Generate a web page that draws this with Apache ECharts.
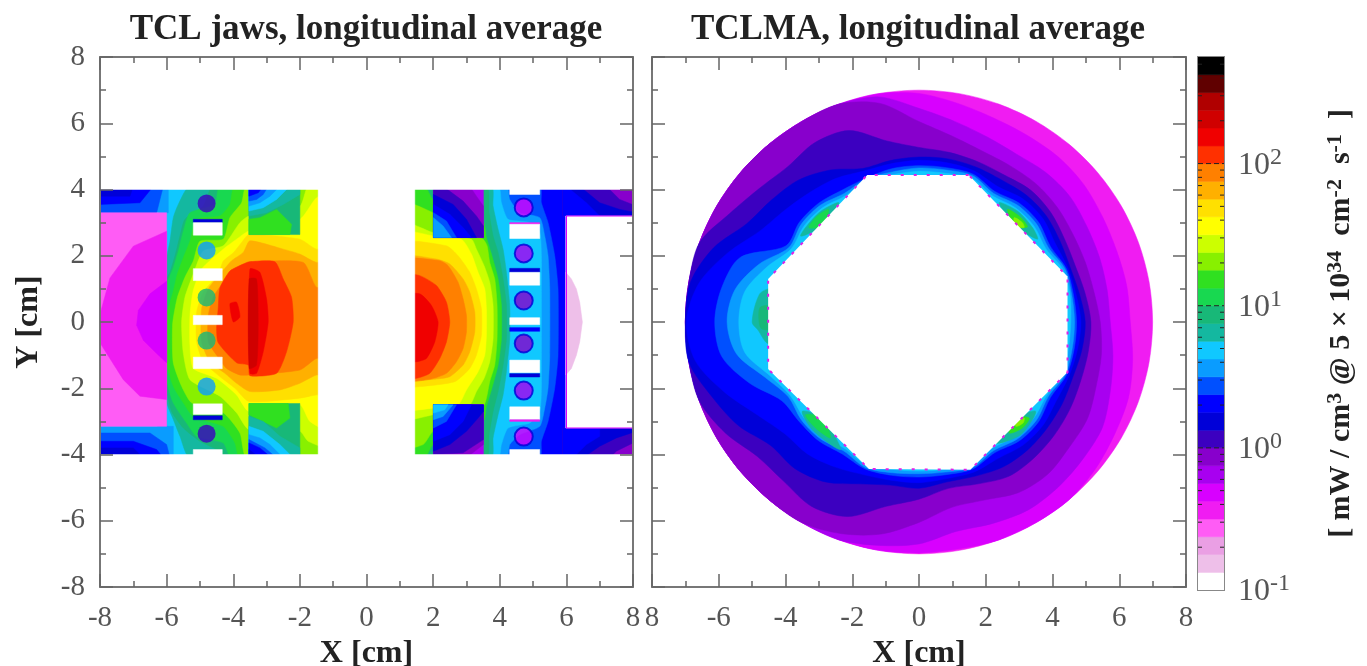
<!DOCTYPE html>
<html>
<head>
<meta charset="utf-8">
<style>
html, body { margin: 0; padding: 0; background: #fff; }
#chart { width: 1367px; height: 666px; filter: blur(0.7px); }
</style>
<script src="https://cdn.jsdelivr.net/npm/echarts@6/dist/echarts.min.js"></script>
</head>
<body>
<div id="chart"></div>
<script>
// colour levels, bottom to top of the colour bar
var palette = ['#ffffff', '#eebfe9', '#ea9fe4', '#ff5cf5', '#f01cf2', '#d800ff', '#a800f0', '#8800cc', '#3c00c0', '#0000d8',
    '#0000ff', '#0050ff', '#0a9cff', '#10c8ff', '#14b8a0', '#18b878', '#18d850', '#30e020', '#88f000', '#ccff00',
    '#ffff00', '#ffe000', '#ffb000', '#ff8000', '#ff3000', '#f00000', '#d00000', '#b00000', '#600000', '#000000'];
var bandEdges = [0.1, 0.133, 0.178, 0.237, 0.316, 0.422, 0.562, 0.75, 1, 1.33, 1.78, 2.37, 3.16, 4.22, 5.62, 7.5,
    10, 13.3, 17.8, 23.7, 31.6, 42.2, 56.2, 75, 100, 133, 178, 237, 316, 422, 562];
var decadeTicks = [1, 10, 100];
var minorCbTicks = [0.2, 0.3, 0.4, 0.5, 0.6, 0.7, 0.8, 0.9, 2, 3, 4, 5, 6, 7, 8, 9, 20, 30, 40, 50, 60, 70, 80, 90, 200, 300, 400, 500];

function box(x0, y0, x1, y1) {
    return [[x0, y0], [x1, y0], [x1, y1], [x0, y1]];
}

// left jaw iso-levels [level, outline in cm], painted from low to high
var leftIso = [
    [13, box(-6, 4.1, -1, -4.1)],
    [14, [[-1, 4.1], [-5.3, 4.1], [-5.65, 3.55], [-5.8, 3.15], [-5.9, 2.44], [-6, 1.9], [-6, -2.4], [-5.8, -2.94], [-5.6, -3.45], [-5.3, -4.1], [-1, -4.1]]],
    [15, [[-1, 4.1], [-4.6, 4.1], [-4.9, 3.5], [-5.45, 3.1], [-5.6, 2.6], [-5.75, 2], [-5.9, 1.5], [-6, 1.3], [-6, -2], [-5.85, -2.7], [-5.5, -3.2], [-5, -3.6], [-4.4, -3.9], [-4.3, -4.1], [-1, -4.1]]],
    [16, [[-1, 4.1], [-4.4, 4.1], [-4.55, 3.55], [-5.3, 3.3], [-5.5, 2.74], [-5.65, 2.14], [-5.8, 1.64], [-6, 1.13], [-6, -1.74], [-5.8, -2.44], [-5.4, -3.05], [-5.1, -3.45], [-4.3, -3.65], [-4.05, -4.1], [-1, -4.1]]],
    [17, [[-1, 4.1], [-3.95, 4.1], [-4.1, 3.55], [-4.4, 3.2], [-5.1, 3.1], [-5.3, 2.44], [-5.5, 1.94], [-5.68, 1.44], [-5.8, 0.93], [-6, 0.2], [-6, -1.23], [-5.8, -1.94], [-5.5, -2.44], [-5.2, -2.85], [-4.3, -3.15], [-3.95, -3.65], [-3.8, -4.1], [-1, -4.1]]],
    [18, [[-1, 4.1], [-3.6, 4.1], [-3.75, 3.6], [-4.1, 3.15], [-4.3, 2.5], [-5, 2.44], [-5.2, 1.84], [-5.45, 1.35], [-5.68, 0.73], [-5.82, -0.06], [-5.8, -1.23], [-5.55, -1.94], [-5.25, -2.44], [-4.3, -2.74], [-3.8, -3.35], [-3.6, -4.1], [-1.9, -4.1], [-1, -4.1]]],
    [19, [[-1, 4.1], [-1.75, 4.1], [-2, 3.5], [-3.53, 3.2], [-3.8, 3], [-4.3, 2.3], [-4.9, 2.14], [-5.2, 1.45], [-5.45, 0.75], [-5.55, 0], [-5.5, -0.93], [-5.3, -1.74], [-4.4, -2.24], [-3.9, -2.74], [-3.53, -3.25], [-2, -3.3], [-1.75, -3.6], [-1, -3.8]]],
    [20, [[-1, 3.9], [-1.5, 3.75], [-2, 3.1], [-3.53, 2.75], [-3.9, 2.5], [-4.3, 2.2], [-4.95, 1.6], [-5.2, 0.95], [-5.3, 0.2], [-5.3, -0.7], [-5.2, -1.4], [-4.5, -1.7], [-3.9, -2.2], [-3.53, -2.7], [-2, -2.5], [-1.7, -3], [-1, -3.3]]],
    [21, [[-1, 2.3], [-1.5, 2.2], [-2, 2.5], [-3.53, 2.64], [-3.75, 2.4], [-4, 2.09], [-4.3, 1.84], [-4.45, 1.44], [-4.9, 0.9], [-5.1, 0.3], [-5.1, -0.6], [-4.9, -1.2], [-4.4, -1.65], [-3.95, -2], [-3.53, -2.4], [-2, -2.3], [-1.5, -2.2], [-1, -2.2]]],
    [22, [[-1, 1.9], [-1.5, 1.8], [-2, 2.05], [-2.5, 2.2], [-3.5, 2.45], [-3.7, 2.1], [-4.05, 1.85], [-4.35, 1.5], [-4.75, 1], [-4.95, 0.4], [-4.95, -0.6], [-4.7, -1.2], [-4.25, -1.55], [-3.9, -1.85], [-3.5, -2.1], [-2.6, -2.05], [-2, -1.85], [-1.5, -1.6], [-1, -1.6]]],
    [23, [[-1, 1.05], [-1.5, 1.05], [-1.9, 1.8], [-3.5, 1.82], [-3.6, 1.8], [-4, 1.55], [-4.3, 1.2], [-4.6, 0.75], [-4.75, 0.2], [-4.75, -0.6], [-4.5, -1], [-4.2, -1.4], [-3.8, -1.6], [-3.5, -1.6], [-2, -1.45], [-1.5, -1.1], [-1, -1.1]]],
    [24, [[-3.5, 1.82], [-2.75, 1.82], [-2.5, 1.3], [-2.25, 0.75], [-2.2, 0], [-2.4, -0.9], [-2.7, -1.55], [-3.5, -1.62], [-3.55, -1.3], [-3.9, -1.23], [-4.45, -0.63], [-4.5, -0.2], [-4.45, 0.43], [-4.4, 1.03], [-4.1, 1.54], [-3.7, 1.75]]],
    [25, [[-4.1, 0.55], [-3.9, 0.6], [-3.8, 0.15], [-4, 0]]],
    [25, [[-3.5, 1.6], [-3.2, 1.5], [-3, 0.7], [-2.95, 0], [-3.1, -0.9], [-3.3, -1.55], [-3.5, -1.55]]],
    [26, [[-3.52, 1.3], [-3.3, 1.3], [-3.25, 0], [-3.3, -1.3], [-3.52, -1.4]]]
];
// blocks of the left jaw: absorber strips, pink section, the two green pads
var leftBlocks = [
    [12, box(-8, 4.1, -5.95, 3.3)],
    [11, [[-8, 4.1], [-6.1, 4.1], [-6.3, 3.3], [-8, 3.3]]],
    [10, [[-8, 4.1], [-6.4, 4.1], [-6.8, 3.6], [-8, 3.55]]],
    [9, [[-8, 4.1], [-7, 4.1], [-7.1, 3.8], [-8, 3.8]]],
    [12, box(-8, -3.15, -5.8, -4.1)],
    [11, [[-8, -3.35], [-6.5, -3.35], [-6, -3.7], [-5.9, -4.1], [-8, -4.1]]],
    [10, [[-8, -3.6], [-7, -3.6], [-6.3, -3.85], [-6.1, -4.1], [-8, -4.1]]],
    [9, [[-8, -3.8], [-7, -3.8], [-6.7, -4.1], [-8, -4.1]]],
    [3, box(-8, 3.3, -6, -3.15)],
    [4, [[-6, 2.74], [-7, 2.29], [-7.7, 1.33], [-8, 0.23], [-8, -0.63], [-7.3, -1.74], [-6.8, -2.24], [-6, -2.34]]],
    [5, [[-6, 1.23], [-6.5, 0.85], [-6.85, 0.35], [-6.9, -0.1], [-6.7, -0.55], [-6.3, -0.95], [-6, -1.23]]],
    [15, box(-3.53, 4.1, -2, 2.64)],
    [17, [[-3.53, 3.1], [-3.2, 3.15], [-2.7, 3.4], [-2.25, 2.95], [-2.3, 2.64], [-3.53, 2.64]]],
    [14, [[-3.53, 4.1], [-2, 4.1], [-2, 3.85], [-2.5, 3.55], [-3, 3.3], [-3.53, 3.2]]],
    [13, [[-3.53, 4.1], [-2.3, 4.1], [-2.7, 3.7], [-3.1, 3.45], [-3.53, 3.35]]],
    [12, [[-3.53, 4.1], [-2.6, 4.1], [-2.9, 3.8], [-3.2, 3.6], [-3.53, 3.5]]],
    [11, [[-3.53, 4.1], [-2.95, 4.1], [-3.1, 3.85], [-3.3, 3.7], [-3.53, 3.65]]],
    [10, [[-3.53, 4.1], [-3.1, 4.1], [-3.25, 3.9], [-3.53, 3.8]]],
    [15, box(-3.53, -2.46, -2, -4.1)],
    [17, [[-3.53, -2.46], [-2.35, -2.46], [-2.3, -2.9], [-2.7, -3.2], [-3.1, -3], [-3.53, -2.8]]],
    [14, [[-3.53, -4.1], [-2, -4.1], [-2, -3.8], [-2.6, -3.45], [-3.1, -3], [-3.53, -2.85]]],
    [13, [[-3.53, -4.1], [-2.2, -4.1], [-2.6, -3.7], [-3.1, -3.3], [-3.53, -3.15]]],
    [12, [[-3.53, -4.1], [-2.5, -4.1], [-2.9, -3.7], [-3.2, -3.5], [-3.53, -3.4]]],
    [11, [[-3.53, -4.1], [-2.7, -4.1], [-3.05, -3.8], [-3.53, -3.55]]],
    [10, [[-3.53, -4.1], [-2.85, -4.1], [-3.2, -3.8], [-3.53, -3.65]]],
    [9, [[-3.53, -4.1], [-3.2, -4.1], [-3.53, -3.85]]]
];

// right jaw iso-levels
var rightIso = [
    [10, box(1, 4.1, 6, -4.1)],
    [11, [[1, 4.1], [5.2, 4.1], [5.25, 3.6], [5.45, 3], [5.65, 2], [5.75, 1], [5.75, -1], [5.65, -2], [5.45, -3], [5.25, -3.6], [5.2, -4.1], [1, -4.1]]],
    [12, [[1, 4.1], [4.2, 4.1], [4.3, 3.7], [4.6, 3.3], [5.2, 3.15], [5.35, 2.6], [5.45, 2], [5.5, 1], [5.5, -1], [5.45, -2], [5.35, -2.6], [5.2, -3.15], [4.6, -3.4], [4.3, -3.7], [4.2, -4.1], [1, -4.1]]],
    [13, [[1, 4.1], [3.95, 4.1], [4.05, 3.6], [4.25, 3.1], [4.9, 3], [5.2, 2.7], [5.25, 2], [5.25, 1], [5.25, -1], [5.25, -2], [5.2, -2.7], [4.9, -3.05], [4.25, -3.2], [4.05, -3.7], [3.95, -4.1], [1, -4.1]]],
    [14, [[1, 4.1], [3.75, 4.1], [3.8, 3.5], [3.95, 2.8], [4.1, 2.2], [4.2, 1.5], [4.3, 0.5], [4.3, -0.5], [4.2, -1.5], [4.1, -2.2], [3.95, -2.8], [3.8, -3.5], [3.75, -4.1], [1, -4.1]]],
    [15, [[1, 4.1], [3.6, 4.1], [3.68, 3.3], [3.8, 2.6], [3.95, 2.1], [4.1, 1.3], [4.2, 0.5], [4.2, -0.5], [4.1, -1.3], [3.95, -2.1], [3.8, -2.7], [3.68, -3.4], [3.6, -4.1], [1, -4.1]]],
    [17, [[1, 4.1], [1.75, 4.1], [2, 3.7], [3.5, 3], [3.6, 2.55], [3.75, 2.05], [3.95, 1.3], [4.05, 0.5], [4.05, -0.5], [3.95, -1.3], [3.75, -2.05], [3.6, -2.55], [3.5, -3], [2, -3.7], [1.75, -4.1], [1, -4.1]]],
    [18, [[1, 3.6], [2, 3.3], [3.5, 2.5], [3.62, 2.3], [3.7, 1.8], [3.85, 1.3], [3.92, 0.5], [3.92, -0.5], [3.85, -1.3], [3.7, -1.8], [3.6, -2.3], [3.5, -2.55], [2, -3.3], [1.7, -3.7], [1, -3.8]]],
    [19, [[1, 3], [2, 2.7], [3.15, 2.5], [3.3, 2.2], [3.53, 1.7], [3.7, 1.2], [3.8, 0.5], [3.8, -0.5], [3.7, -1.2], [3.53, -1.7], [3.3, -2.1], [3.1, -2.5], [2, -2.8], [1, -2.9]]],
    [20, [[1, 2.7], [2, 2.6], [2.85, 2.5], [3.15, 2.05], [3.35, 1.5], [3.55, 1], [3.6, 0.4], [3.6, -0.4], [3.55, -1], [3.35, -1.5], [3, -2.05], [2.75, -2.5], [2, -2.6], [1, -2.6]]],
    [21, [[1, 2.35], [2.4, 2.3], [2.75, 2], [3.1, 1.5], [3.3, 1], [3.45, 0.4], [3.45, -0.4], [3.3, -1], [3.1, -1.4], [2.65, -1.8], [1.6, -1.95], [1, -1.95]]],
    [22, [[1, 1.95], [2.1, 1.9], [2.5, 1.75], [2.9, 1.3], [3.1, 0.9], [3.25, 0.3], [3.25, -0.3], [3.1, -0.9], [2.9, -1.3], [2.5, -1.65], [2, -1.73], [1, -1.73]]],
    [23, [[1, 1.85], [2.2, 1.85], [2.45, 1.7], [2.75, 1.2], [2.9, 0.7], [3, 0.2], [3, -0.3], [2.9, -0.8], [2.7, -1.2], [2.4, -1.55], [1.9, -1.73], [1, -1.73]]],
    [24, [[1, 1.45], [1.6, 1.4], [2.1, 1.1], [2.4, 0.6], [2.5, 0], [2.4, -0.6], [2.2, -1.1], [1.9, -1.55], [1.5, -1.7], [1, -1.7]]],
    [25, [[1, 0.8], [1.6, 0.85], [1.95, 0.5], [2.15, 0], [2.05, -0.6], [1.8, -1.1], [1.5, -1.2], [1, -1.2]]]
];
var rightBlocks = [
    [6, box(2.01, 4.1, 3.51, 2.55)],
    [7, [[2.01, 4.1], [3.1, 4.1], [3.3, 3.8], [3.51, 3.5], [3.51, 2.55], [2.01, 2.55]]],
    [8, [[2.01, 4.1], [2.3, 4.1], [2.9, 3.65], [3.3, 3.2], [3.51, 2.9], [3.51, 2.55], [2.01, 2.55]]],
    [9, [[2.01, 3.85], [2.6, 3.55], [3, 3.1], [3.3, 2.55], [2.01, 2.55]]],
    [10, [[2.01, 3.55], [2.5, 3.25], [2.9, 2.85], [3.15, 2.55], [2.01, 2.55]]],
    [11, [[2.01, 3.3], [2.4, 3.05], [2.7, 2.55], [2.01, 2.55]]],
    [12, [[2.01, 3.15], [2.3, 2.9], [2.55, 2.55], [2.01, 2.55]]],
    [6, box(2.01, -2.5, 3.51, -4.1)],
    [7, [[2.01, -4.1], [3, -4.1], [3.51, -3.7], [3.51, -2.5], [2.01, -2.5]]],
    [8, [[2.01, -4], [2.9, -3.95], [3.51, -3.55], [3.51, -2.5], [2.01, -2.5]]],
    [9, [[2.01, -3.9], [2.5, -3.7], [3, -3.3], [3.35, -2.9], [3.51, -2.7], [3.51, -2.5], [2.01, -2.5]]],
    [10, [[2.01, -3.6], [2.5, -3.4], [2.9, -3], [3.15, -2.5], [2.01, -2.5]]],
    [11, [[2.01, -3.2], [2.4, -3], [2.7, -2.5], [2.01, -2.5]]],
    [12, [[2.01, -2.95], [2.3, -2.85], [2.6, -2.5], [2.01, -2.5]]],
    [13, [[2.01, -2.75], [2.35, -2.65], [2.45, -2.5], [2.01, -2.5]]],
    [7, box(5.9, 4.1, 8.1, 3.2)],
    [8, [[5.9, 4.1], [7.2, 4.1], [7.6, 3.7], [8.1, 3.5], [8.1, 3.2], [5.9, 3.2]]],
    [9, [[5.9, 4.1], [6.4, 4.1], [7, 3.6], [7.6, 3.4], [8.1, 3.3], [8.1, 3.2], [5.9, 3.2]]],
    [10, [[5.9, 4.1], [6, 4.1], [6.6, 3.6], [7, 3.2], [5.9, 3.2]]],
    [7, box(5.9, -3.2, 8.1, -4.1)],
    [8, [[8.1, -3.2], [8.1, -3.6], [7.5, -3.9], [7.3, -4.1], [5.9, -4.1], [5.9, -3.2]]],
    [9, [[8.1, -3.2], [8.1, -3.3], [7.5, -3.5], [7, -3.75], [6.5, -4.1], [5.9, -4.1], [5.9, -3.2]]],
    [10, [[5.9, -4.1], [6.2, -4.1], [6.6, -3.7], [7, -3.45], [7, -3.2], [5.9, -3.2]]],
    [0, box(5.98, 3.2, 8.1, -3.2)],
    [1, [[5.98, 1.5], [6.15, 1.3], [6.3, 1], [6.4, 0.6], [6.48, 0], [6.4, -0.6], [6.3, -1], [6.15, -1.4], [5.98, -1.6]]]
];
// white outside the jaws, keeps the iso-levels inside the -4..4 band and off the gap
var jawMasks = [
    [0, box(-1.45, 4.3, 1.45, -4.3)],
    [0, box(-8.1, 8, 8.1, 4)],
    [0, box(-8.1, -4, 8.1, -8)]
];

// white slots and the thin strips next to them
var leftSlots = [
    [9, box(-5.2, 3.1, -4.33, 3.0)], [0, box(-5.2, 3.0, -4.33, 2.62)], [0, box(-5.2, 1.61, -4.33, 1.25)], [0, box(-5.2, 0.2, -4.33, -0.08)],
    [0, box(-5.2, -1.06, -4.33, -1.41)], [0, box(-5.2, -2.47, -4.33, -2.79)], [9, box(-5.2, -2.83, -4.33, -2.95)], [0, box(-5.2, -3.85, -4.33, -4.1)]
];
var rightSlots = [
    [0, box(4.3, 4.1, 5.2, 3.85)], [4, box(4.3, 3.0, 5.2, 2.95)], [0, box(4.3, 2.95, 5.2, 2.52)], [9, box(4.3, 1.62, 5.2, 1.5)], [0, box(4.3, 1.5, 5.2, 1.11)],
    [0, box(4.3, 0.13, 5.2, -0.08)], [10, box(4.3, -0.17, 5.2, -0.28)], [0, box(4.3, -1.15, 5.2, -1.53)], [9, box(4.3, -1.56, 5.2, -1.66)],
    [0, box(4.3, -2.56, 5.2, -2.95)], [4, box(4.3, -2.95, 5.2, -3.0)], [0, box(4.3, -3.85, 5.2, -4.1)]
];
// cooling pipes: x, y, level
var leftPipes = [[-4.8, 3.58, 8], [-4.8, 2.16, 12], [-4.8, 0.74, 15], [-4.8, -0.56, 15], [-4.8, -1.95, 12], [-4.8, -3.37, 8]];
var rightPipes = [[4.72, 3.46, 5], [4.72, 2.07, 6], [4.72, 0.65, 7], [4.72, -0.65, 7], [4.72, -2.07, 6], [4.72, -3.46, 5]];
var pocketEdge = [[8, 3.2], [6, 3.2], [6, -3.2], [8, -3.2]];

// TCLMA: outer radius [cm] of each colour level, every 10 deg counter-clockwise from +x
var r4 = [7, 7, 7, 7, 7, 7, 7, 7, 7, 7, 7, 7, 7, 7, 7, 7, 7, 7, 7, 7, 7, 7, 7, 7, 7, 7, 7, 7, 7, 7, 7, 7, 7, 7, 7, 7];
var r5 = [6.33, 6.32, 6.3, 6.35, 6.45, 6.5, 6.5, 6.55, 6.7, 6.9, 7, 7, 7, 7, 7, 7, 7, 7, 7, 7, 7, 7, 7, 7, 7, 7, 7, 6.97, 6.95, 7, 7, 7, 6.9, 6.77, 6.68, 6.5];
var r6 = [5.73, 5.72, 5.75, 5.8, 5.9, 5.9, 5.85, 5.95, 6.15, 6.45, 6.9, 7, 7, 7, 7, 7, 7, 7, 7, 7, 7, 7, 7, 7, 7, 7, 6.85, 6.7, 6.42, 6.47, 6.55, 6.5, 6.42, 6.35, 6.1, 5.9];
var r7 = [5.43, 5.32, 5.3, 5.32, 5.4, 5.45, 5.45, 5.5, 5.7, 6.05, 6.7, 7, 7, 7, 7, 7, 7, 7, 7, 7, 7, 7, 7, 7, 7, 6.8, 6.5, 6.05, 5.68, 5.72, 5.95, 6, 5.88, 5.83, 5.65, 5.55];
var r8 = [5.15, 5.05, 4.98, 5.03, 5.15, 5.2, 5.12, 5.15, 5.2, 5.27, 5.55, 6.15, 6.25, 6.12, 6.26, 6.55, 7, 7, 7, 7, 7, 6.7, 6.32, 6.29, 6.43, 6.25, 5.65, 5.35, 5.1, 5.2, 5.38, 5.36, 5.3, 5.23, 5.16, 5.15];
var r9 = [4.98, 4.88, 4.82, 4.88, 4.98, 5, 4.95, 4.98, 5, 4.98, 4.95, 4.93, 5.3, 5.6, 5.75, 5.95, 6.55, 6.95, 7, 7, 6.6, 6.25, 5.8, 5.78, 5.58, 5.2, 5, 5.02, 4.9, 4.95, 5.05, 5.05, 5, 4.95, 4.9, 4.95];
var rA = [4.85, 4.78, 4.75, 4.72, 4.85, 4.85, 4.72, 4.85, 4.88, 4.88, 4.85, 4.85, 5, 5.1, 5.25, 5.5, 6.1, 6.7, 6.97, 6.8, 6.2, 5.6, 5.25, 5.2, 5.05, 4.9, 4.85, 4.85, 4.8, 4.82, 4.75, 4.85, 4.85, 4.75, 4.78, 4.82];
var rB = [4.72, 4.7, 4.7, 4.55, 4.68, 4.68, 4.55, 4.75, 4.73, 4.72, 4.7, 4.62, 4.6, 4.68, 4.68, 4.6, 5.7, 6, 6.12, 6, 5.4, 4.75, 4.68, 4.68, 4.6, 4.72, 4.7, 4.68, 4.68, 4.72, 4.55, 4.68, 4.68, 4.55, 4.7, 4.72];
var rC = [4.66, 4.65, 4.66, 4.48, 4.6, 4.6, 4.48, 4.7, 4.66, 4.65, 4.6, 4.6, 4.48, 4.6, 4.6, 4.5, 5.1, 5.6, 5.75, 5.55, 4.9, 4.52, 4.6, 4.6, 4.5, 4.68, 4.62, 4.58, 4.6, 4.68, 4.48, 4.6, 4.6, 4.48, 4.66, 4.66];
var rD = [4.55, 4.6, 4.6, 4.4, 4.5, 4.5, 4.4, 4.62, 4.56, 4.55, 4.52, 4.55, 4.4, 4.5, 4.5, 4.42, 4.85, 5.3, 5.4, 5.3, 4.75, 4.45, 4.5, 4.5, 4.42, 4.6, 4.52, 4.5, 4.52, 4.6, 4.4, 4.5, 4.5, 4.42, 4.6, 4.55];
var ringLevels = [[4, r4], [5, r5], [6, r6], [7, r7], [8, r8], [9, r9], [10, rA], [11, rB], [12, rC], [13, rD]];

// hot spots near the octagon
var hotSpots = [
    [14, [[-4.44, 1.03], [-4.78, 0.84], [-5, 0], [-4.82, -0.25], [-4.55, -0.64], [-4.3, -0.6], [-4.3, 1]]],
    [15, [[-4.75, 0.45], [-4.8, 0.1], [-4.72, -0.2], [-4.4, -0.2], [-4.4, 0.45]]],
    [14, [[2.4, 3.6], [2.95, 3.35], [3.4, 2.85], [3.55, 2.5], [2.9, 2.9]]],
    [17, [[2.65, 3.4], [3, 3.2], [3.25, 2.87], [2.9, 2.9]]],
    [18, [[2.85, 3.15], [3.1, 3], [3.15, 2.85], [2.9, 2.9]]],
    [14, [[-2.4, 3.6], [-3, 3.3], [-3.55, 2.6], [-2.9, 2.9]]],
    [16, [[-2.7, 3.4], [-3.05, 3.2], [-3.3, 2.85], [-2.9, 2.9]]],
    [14, [[-3.5, -2.7], [-3.15, -3.3], [-2.35, -3.85], [-2.9, -2.9]]],
    [16, [[-3.4, -2.8], [-3.1, -3.2], [-2.65, -3.5], [-2.9, -2.9]]],
    [14, [[2.3, -3.65], [3.05, -3.4], [3.5, -2.7], [2.9, -2.9]]],
    [17, [[2.7, -3.35], [3.1, -3.2], [3.3, -2.9], [2.9, -2.9]]],
    [18, [[2.9, -3.15], [3.12, -3.05], [3.15, -2.9], [2.9, -2.9]]]
];
var octagon = [[1.49, 4.44], [-1.55, 4.44], [-4.52, 1.3], [-4.52, -1.42], [-1.5, -4.44], [1.54, -4.46], [4.45, -1.52], [4.45, 1.37]];

var xTicksLeft = {'-8': '-8', '-6': '-6', '-4': '-4', '-2': '-2', '0': '0', '2': '2', '4': '4', '6': '6', '8': '8'};
var xTicksRight = {'-8': '8', '-6': '-6', '-4': '-4', '-2': '-2', '0': '0', '2': '2', '4': '4', '6': '6', '8': '8'};

var FONT = '"Liberation Serif", serif';
var TEXT = '#555';
var BOLD = '#222';

function renderBand(params, api) {
    var a = api.coord([api.value(0), api.value(1)]);
    var b = api.coord([api.value(2), api.value(3)]);
    var color = palette[api.value(4)];
    return {
        type: 'rect',
        shape: {x: a[0], y: a[1], width: b[0] - a[0], height: b[1] - a[1]},
        style: {fill: color, stroke: color, lineWidth: 0.6}
    };
}

// patches: [level, outline in cm], one custom item per patch
function patchSeries(patches, idx, z, smooth) {
    return {
        type: 'custom', xAxisIndex: idx, yAxisIndex: idx, z: z, silent: true, clip: true,
        data: patches.map(function (p, i) { return [i]; }),
        encode: {x: 0},
        renderItem: function (params, api) {
            var p = patches[params.dataIndex];
            return {
                type: 'polygon',
                shape: {points: p[1].map(function (q) { return api.coord(q); }), smooth: smooth},
                style: {fill: palette[p[0]], stroke: palette[p[0]], lineWidth: 0.5}
            };
        }
    };
}

function pipeSeries(data, idx, halo) {
    return {
        type: 'scatter', xAxisIndex: idx, yAxisIndex: idx, z: 6, silent: true, symbolSize: 18,
        data: data.map(function (p) { return {value: [p[0], p[1]], itemStyle: {color: palette[p[2]]}}; }),
        itemStyle: {borderColor: halo, borderWidth: halo ? 2 : 0}
    };
}

function ringPoints(radii, api) {
    return radii.map(function (r, i) {
        var t = i * 10 * Math.PI / 180;
        return api.coord([r * Math.cos(t), r * Math.sin(t)]);
    });
}

function frameAxes(gridIndex, tickMap, showName) {
    var tickStyle = {color: '#666', width: 1.5};
    var x = {
        gridIndex: gridIndex, type: 'value', min: -8, max: 8, interval: 2, z: 10,
        axisLine: {onZero: false, lineStyle: {color: '#777', width: 2}},
        axisTick: {inside: true, length: 13, lineStyle: tickStyle},
        minorTick: {show: true, splitNumber: 2, length: 6, lineStyle: tickStyle},
        splitLine: {show: false}
    };
    var y = JSON.parse(JSON.stringify(x));
    var xTop = JSON.parse(JSON.stringify(x));
    x.position = 'bottom';
    x.axisLabel = {
        margin: 17, fontFamily: FONT, fontSize: 29, color: TEXT,
        formatter: function (v) { return tickMap[v]; }
    };
    x.name = 'X [cm]';
    x.nameLocation = 'middle';
    x.nameGap = 46;
    x.nameTextStyle = {fontFamily: FONT, fontSize: 32, fontWeight: 'bold', color: BOLD};
    xTop.position = 'top';
    xTop.axisLabel = {show: false};
    var yRight = JSON.parse(JSON.stringify(y));
    y.position = 'left';
    y.axisLabel = {show: showName, margin: 15, fontFamily: FONT, fontSize: 29, color: TEXT};
    if (showName) {
        y.name = 'Y [cm]';
        y.nameLocation = 'middle';
        y.nameGap = 55;
        y.nameRotate = 90;
        y.nameTextStyle = {fontFamily: FONT, fontSize: 32, fontWeight: 'bold', color: BOLD};
    }
    yRight.position = 'right';
    yRight.axisLabel = {show: false};
    return {x: [x, xTop], y: [y, yRight]};
}

var frameL = frameAxes(0, xTicksLeft, true);
var frameR = frameAxes(1, xTicksRight, false);

var option = {
    backgroundColor: '#fff',
    animation: false,
    title: [
        {text: 'TCL jaws, longitudinal average', left: 361, top: 7, textAlign: 'center',
            textStyle: {fontFamily: FONT, fontSize: 35, fontWeight: 'bold', color: BOLD}},
        {text: 'TCLMA, longitudinal average', left: 913, top: 7, textAlign: 'center',
            textStyle: {fontFamily: FONT, fontSize: 35, fontWeight: 'bold', color: BOLD}}
    ],
    grid: [
        {left: 100, width: 533, top: 57, height: 530, outerBoundsMode: 'none'},
        {left: 652, width: 534, top: 57, height: 530, outerBoundsMode: 'none'},
        {left: 1198, width: 26, top: 57, height: 533, outerBoundsMode: 'none', show: true, borderColor: '#888', borderWidth: 2, backgroundColor: 'transparent'}
    ],
    xAxis: [frameL.x[0], frameR.x[0], {gridIndex: 2, type: 'value', min: 0, max: 1, show: false}, frameL.x[1], frameR.x[1]],
    yAxis: [frameL.y[0], frameR.y[0], {
        gridIndex: 2, type: 'log', logBase: 10, min: 0.1, max: 562, position: 'right',
        axisLine: {show: false}, axisTick: {show: false}, splitLine: {show: false}, minorTick: {show: false},
        axisLabel: {
            margin: 14, align: 'left', showMaxLabel: false,
            formatter: function (v) {
                var e = Math.log10(v);
                if (Math.abs(e - Math.round(e)) > 0.01) { return ''; }
                return '{b|10}{s|' + Math.round(e) + '}';
            },
            rich: {
                b: {fontFamily: FONT, fontSize: 32, color: TEXT, verticalAlign: 'bottom'},
                s: {fontFamily: FONT, fontSize: 24, color: TEXT, verticalAlign: 'top', padding: [0, 0, 12, 0]}
            }
        },
        name: '{t|[ mW / cm}{s|3}{t| @ 5 × 10}{s|34}{t|  cm}{s|-2}{t|  s}{s|-1}{t|  ]}',
        nameLocation: 'middle', nameRotate: 90, nameGap: 100,
        nameTextStyle: {
            rich: {
                t: {fontFamily: FONT, fontSize: 30, fontWeight: 'bold', color: BOLD, verticalAlign: 'bottom'},
                s: {fontFamily: FONT, fontSize: 22, fontWeight: 'bold', color: BOLD, verticalAlign: 'top', padding: [0, 0, 10, 0]}
            }
        }
    }, frameL.y[1], frameR.y[1]],
    series: [
        patchSeries(leftIso, 0, 2, 0.2),
        patchSeries(rightIso, 0, 2, 0.2),
        patchSeries(leftBlocks, 0, 3, 0),
        patchSeries(rightBlocks, 0, 3, 0),
        patchSeries(jawMasks, 0, 4, 0),
        patchSeries(leftSlots, 0, 5, 0),
        patchSeries(rightSlots, 0, 5, 0),
        pipeSeries(leftPipes, 0, null),
        pipeSeries(rightPipes, 0, '#0000d8'),
        {
            type: 'line', xAxisIndex: 0, yAxisIndex: 0, z: 5, silent: true, showSymbol: false,
            data: pocketEdge, lineStyle: {color: '#d800ff', width: 1.2}
        },
        {
            // TCLMA rings, painted from the outside in
            type: 'custom', xAxisIndex: 1, yAxisIndex: 1, z: 2, silent: true, clip: true,
            data: ringLevels.map(function (d, i) { return [i]; }),
            encode: {x: 0},
            renderItem: function (params, api) {
                var ring = ringLevels[params.dataIndex];
                return {
                    type: 'polygon',
                    shape: {points: ringPoints(ring[1], api), smooth: 0.3},
                    style: {fill: palette[ring[0]], stroke: palette[ring[0]], lineWidth: 0.5}
                };
            }
        },
        patchSeries(hotSpots, 1, 3, 0.3),
        {
            type: 'custom', xAxisIndex: 1, yAxisIndex: 1, z: 4, silent: true, clip: true,
            data: [[0]],
            encode: {x: 0},
            renderItem: function (params, api) {
                return {
                    type: 'polygon',
                    shape: {points: octagon.map(function (p) { return api.coord(p); })},
                    style: {fill: '#fff', stroke: '#e020e8', lineWidth: 2, lineDash: [3, 10]}
                };
            }
        },
        // colour bar
        {
            type: 'custom', xAxisIndex: 2, yAxisIndex: 2, z: 2, silent: true, clip: true,
            data: palette.map(function (c, i) { return [0, bandEdges[i], 1, bandEdges[i + 1], i]; }),
            encode: {x: [0, 2], y: [1, 3]},
            renderItem: renderBand
        },
        {
            type: 'custom', xAxisIndex: 2, yAxisIndex: 2, z: 3, silent: true,
            data: minorCbTicks.map(function (v) { return [0, v]; }),
            encode: {x: 0, y: 1},
            renderItem: function (params, api) {
                var a = api.coord([0, api.value(1)]);
                var b = api.coord([1, api.value(1)]);
                var st = {stroke: '#222', lineWidth: 1};
                return {type: 'group', children: [
                    {type: 'line', shape: {x1: a[0], y1: a[1], x2: a[0] + 4, y2: a[1]}, style: st},
                    {type: 'line', shape: {x1: b[0] - 4, y1: b[1], x2: b[0], y2: b[1]}, style: st}
                ]};
            }
        },
        {
            type: 'custom', xAxisIndex: 2, yAxisIndex: 2, z: 3, silent: true,
            data: decadeTicks.map(function (v) { return [0, v]; }),
            encode: {x: 0, y: 1},
            renderItem: function (params, api) {
                var a = api.coord([0, api.value(1)]);
                var b = api.coord([1, api.value(1)]);
                return {type: 'line', shape: {x1: a[0], y1: a[1], x2: b[0], y2: b[1]},
                    style: {stroke: '#222', lineWidth: 1, lineDash: [5, 3]}};
            }
        }
    ]
};

var chart = echarts.init(document.getElementById('chart'));
chart.setOption(option);
</script>
</body>
</html>
